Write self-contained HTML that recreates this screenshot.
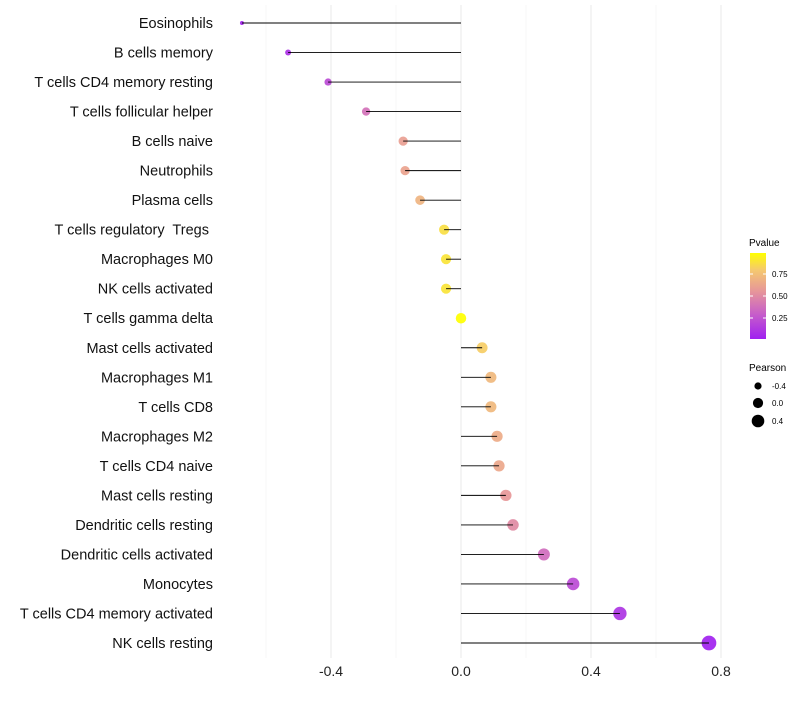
<!DOCTYPE html>
<html><head><meta charset="utf-8"><style>
body{margin:0;background:#fff;font-family:"Liberation Sans",sans-serif}
text{white-space:pre}
</style></head><body>
<svg id="chart" width="800" height="700" xmlns="http://www.w3.org/2000/svg" style="white-space:pre">
<defs><linearGradient id="pg" x1="0" y1="1" x2="0" y2="0">
<stop offset="0" stop-color="#A020F0"/><stop offset="0.3" stop-color="#C860C8"/><stop offset="0.55" stop-color="#E6959A"/><stop offset="0.8" stop-color="#F5C870"/><stop offset="1" stop-color="#FFFF00"/>
</linearGradient></defs>
<g id="grid"></g><g id="marks"></g><g id="labels"></g>
<g>
<text x="749" y="246" font-size="10">Pvalue</text>
<rect x="750" y="253" width="16" height="86" fill="url(#pg)"/>
<line x1="750" y1="274" x2="753" y2="274" stroke="#fff"/><line x1="763" y1="274" x2="766" y2="274" stroke="#fff"/>
<line x1="750" y1="296" x2="753" y2="296" stroke="#fff"/><line x1="763" y1="296" x2="766" y2="296" stroke="#fff"/>
<line x1="750" y1="318" x2="753" y2="318" stroke="#fff"/><line x1="763" y1="318" x2="766" y2="318" stroke="#fff"/>
<text x="772" y="277" font-size="8">0.75</text><text x="772" y="299" font-size="8">0.50</text><text x="772" y="321" font-size="8">0.25</text>
</g>
<g>
<text x="749" y="371" font-size="10">Pearson</text>
<circle cx="758" cy="386" r="3.6"/><text x="772" y="389" font-size="8">-0.4</text>
<circle cx="758" cy="403" r="5.1"/><text x="772" y="406" font-size="8">0.0</text>
<circle cx="758" cy="421" r="6.3"/><text x="772" y="424" font-size="8">0.4</text>
</g>
</svg>
<script>
const cells=["Eosinophils","B cells memory","T cells CD4 memory resting","T cells follicular helper","B cells naive","Neutrophils","Plasma cells","T cells regulatory  Tregs ","Macrophages M0","NK cells activated","T cells gamma delta","Mast cells activated","Macrophages M1","T cells CD8","Macrophages M2","T cells CD4 naive","Mast cells resting","Dendritic cells resting","Dendritic cells activated","Monocytes","T cells CD4 memory activated","NK cells resting"];
const pearson=[-0.674,-0.532,-0.409,-0.292,-0.178,-0.172,-0.126,-0.052,-0.046,-0.046,0.0,0.065,0.092,0.092,0.111,0.117,0.138,0.160,0.255,0.345,0.489,0.763];
const pvalue=[0.02,0.08,0.2,0.38,0.6,0.62,0.7,0.88,0.9,0.9,1.0,0.82,0.72,0.72,0.66,0.64,0.56,0.5,0.36,0.2,0.1,0.01];
const xTicks=[-0.4,0.0,0.4,0.8];
const xMinor=[-0.6,-0.2,0.2,0.6];
const NS="http://www.w3.org/2000/svg";
const xs=v=>461+v*325;
const ys=i=>23+i*(620/21);
const pmin=Math.min(...pearson),pmax=Math.max(...pearson);
const rs=v=>{const t=(v-pmin)/((pmax-pmin)||1);return Math.sqrt(4+50*Math.max(0,Math.min(1,t)));};
function col(p){const st=[[0,[160,32,240]],[0.3,[200,96,200]],[0.55,[230,149,154]],[0.8,[245,200,112]],[1,[255,255,0]]];
for(let k=1;k<st.length;k++){if(p<=st[k][0]){const a=st[k-1],b=st[k],t=(p-a[0])/(b[0]-a[0]);return `rgb(${a[1].map((c,j)=>Math.round(c+(b[1][j]-c)*t)).join(',')})`;}}return 'rgb(255,255,0)';}
function mk(t,at,par){const e=document.createElementNS(NS,t);for(const k in at)e.setAttribute(k,at[k]);par.appendChild(e);return e;}
const grid=document.getElementById('grid'),marks=document.getElementById('marks'),labels=document.getElementById('labels');
xMinor.forEach(v=>{const l=mk('line',{x1:xs(v),x2:xs(v),y1:5,y2:658,stroke:'#f2f2f2','stroke-width':0.6},grid);

});
xTicks.forEach(v=>{const l=mk('line',{x1:xs(v),x2:xs(v),y1:5,y2:658,stroke:'#ebebeb','stroke-width':1.1},grid);


const t=mk('text',{x:xs(v),y:676,'font-size':14,'text-anchor':'middle',fill:'#222'},labels);t.textContent=v.toFixed(1);

});
cells.forEach((c,i)=>{const y=ys(i);
const ci=mk('circle',{cx:xs(pearson[i]),cy:y,r:rs(pearson[i]),fill:col(pvalue[i]),'fill-opacity':0.92},marks);


const ln=mk('line',{x1:xs(0),x2:xs(pearson[i]),y1:y,y2:y,stroke:'#000','stroke-width':0.9},marks);


const t=mk('text',{x:213,y:y+5,'font-size':14.5,'text-anchor':'end',fill:'#111'},labels);t.textContent=c;

});
</script>
</body></html>
